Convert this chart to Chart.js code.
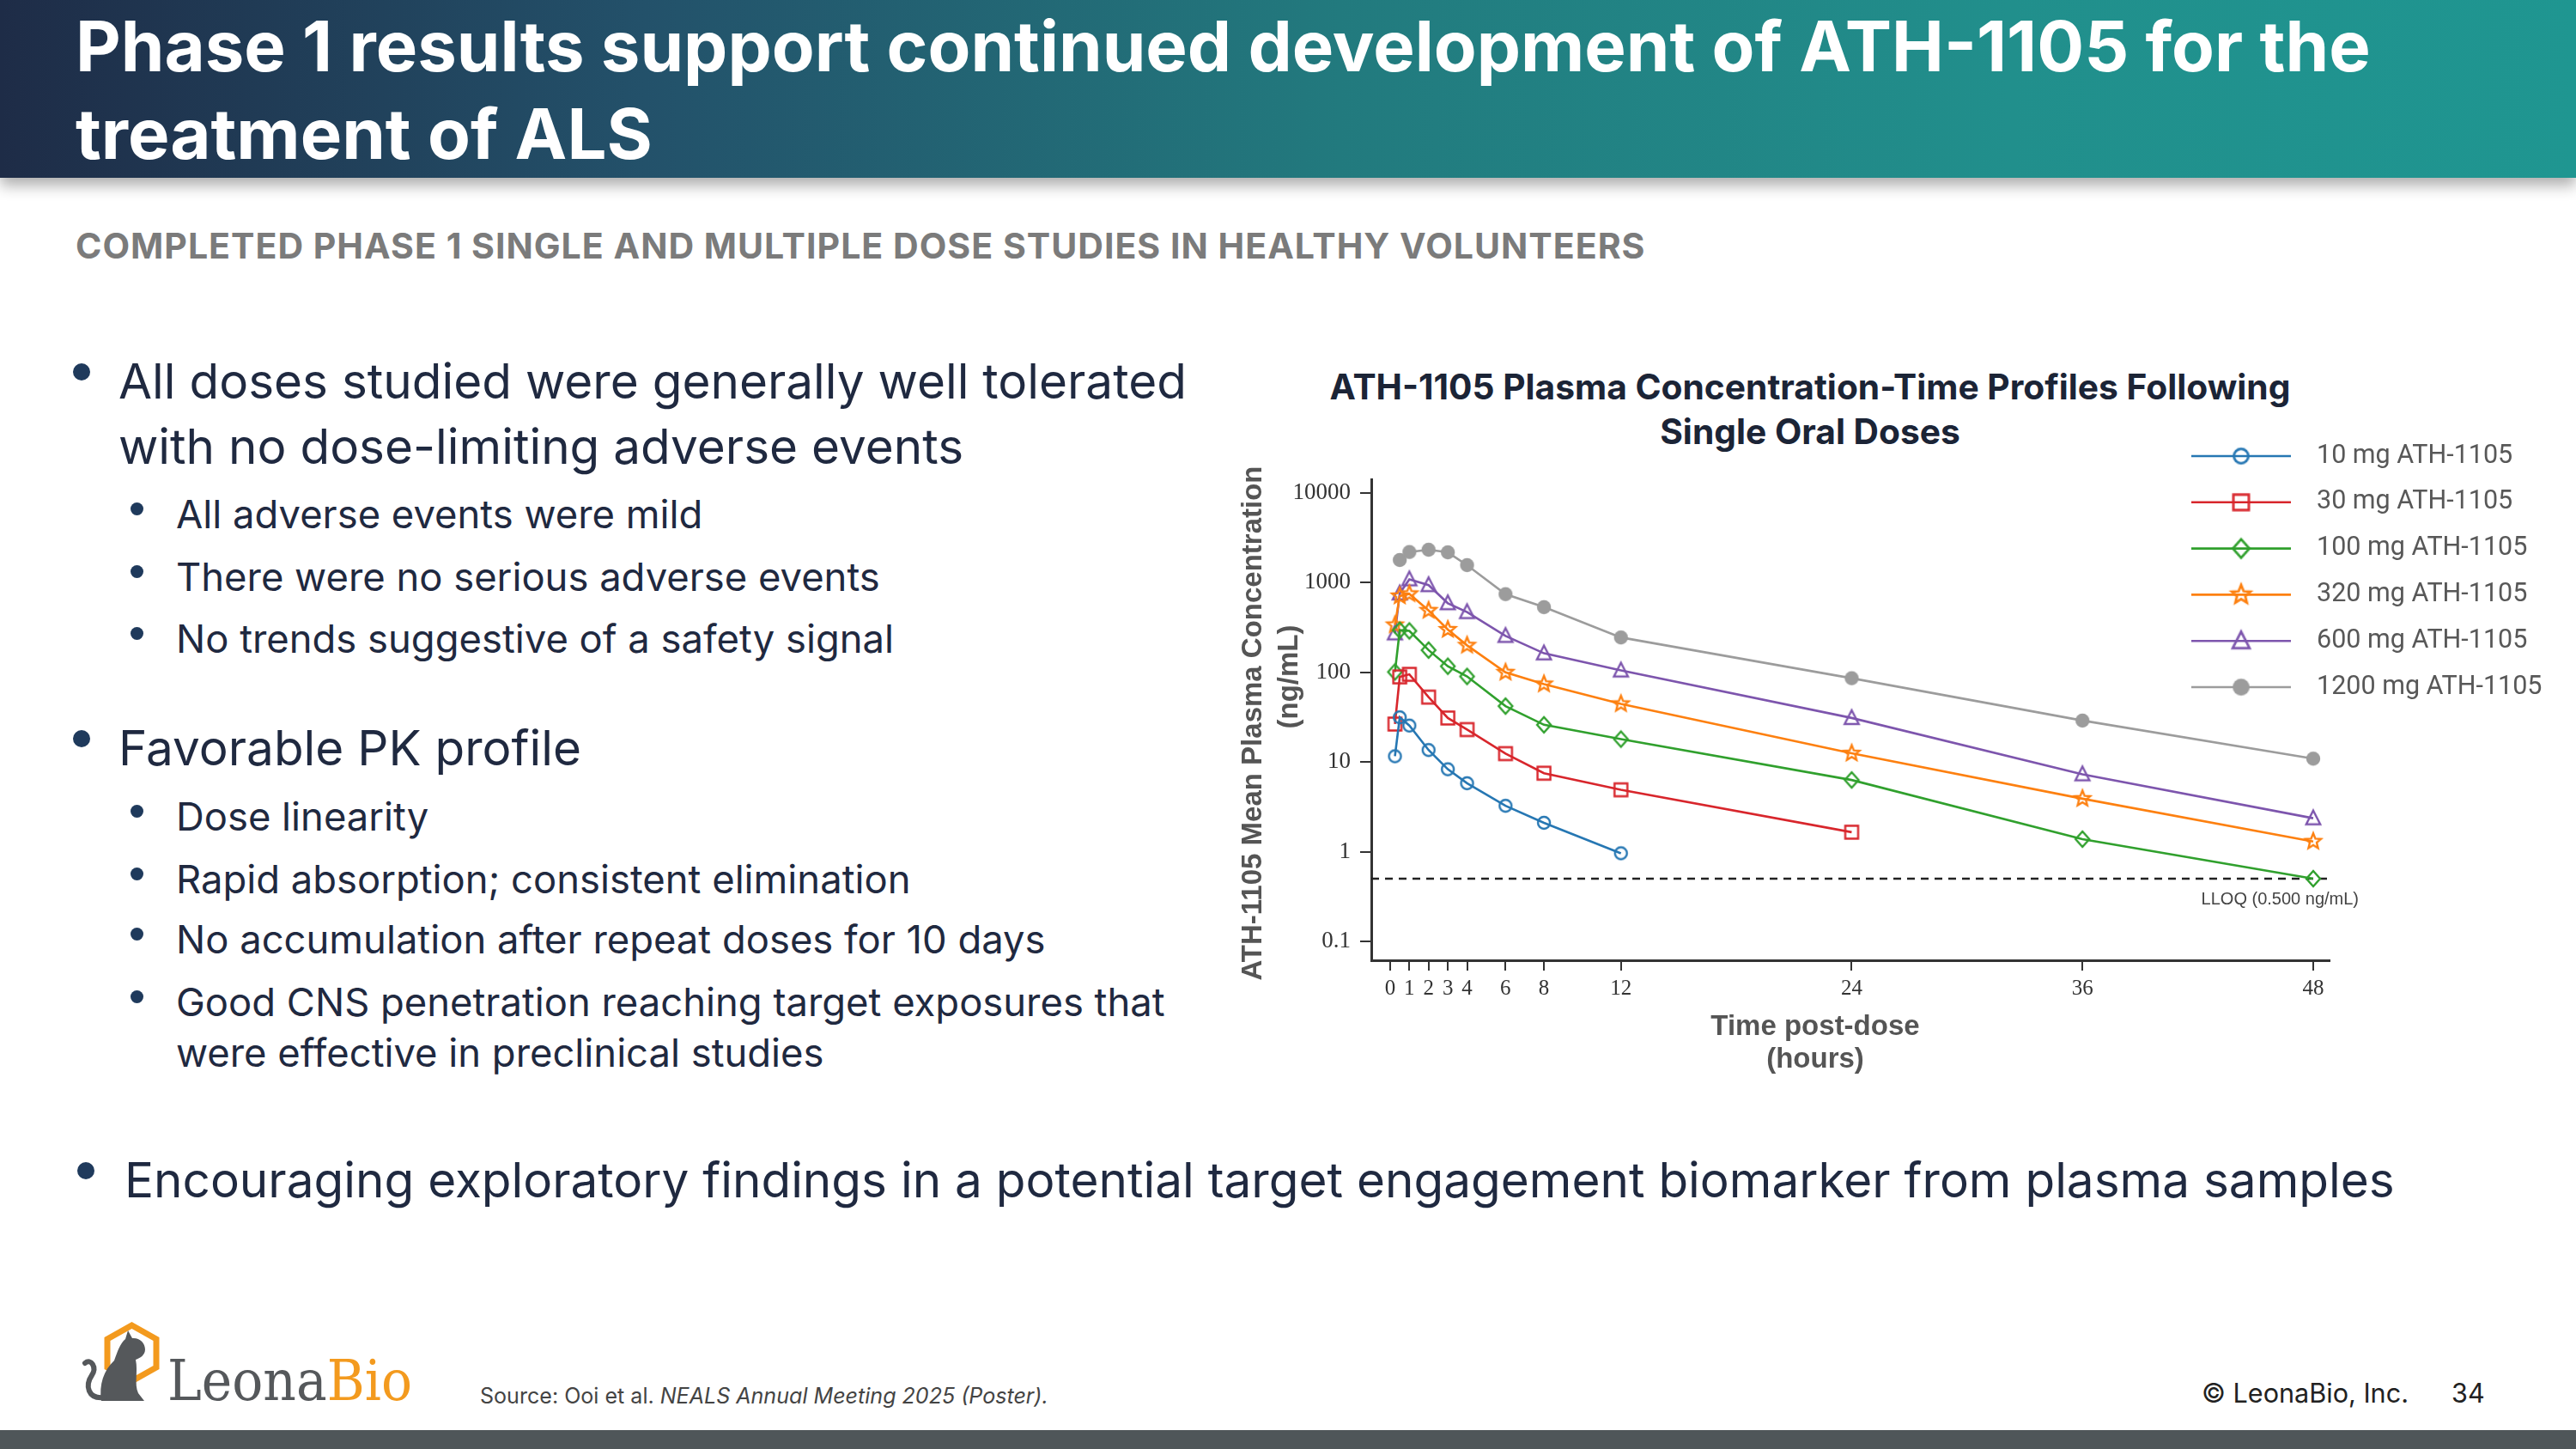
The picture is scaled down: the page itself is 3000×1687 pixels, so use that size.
<!DOCTYPE html>
<html>
<head>
<meta charset="utf-8">
<title>ATH-1105 Phase 1</title>
<script src="https://cdn.jsdelivr.net/npm/chart.js@4.4.1/dist/chart.umd.min.js"></script>
<style>
html, body { margin: 0; padding: 0; background: #fff; }
#slide { position: relative; width: 3000px; height: 1687px; overflow: hidden; background: #fff; font-family: Inter, 'Noto Sans', sans-serif; }
.header { position: absolute; left: 0; top: 0; width: 3000px; height: 207px;
  background: linear-gradient(90deg, #1e2c47 0%, #23516a 25%, #227a7e 52%, #218f8c 78%, #1f9691 100%);
  box-shadow: 0 9px 16px rgba(0,0,0,0.32); }
.t { position: absolute; white-space: nowrap; line-height: 1; font-size: 40px; }
.title { color: #fff; font-weight: 700; font-size: 78px; }
.sub { color: #7b7b7b; font-weight: 700; font-size: 38px; letter-spacing: 1px; }
.b1, .b2, .b3 { color: #1f2940; font-weight: 400; }
.ctitle { color: #1b2436; font-weight: 700; }
.foot { color: #444; }
.copy { color: #222; }
.dot { position: absolute; border-radius: 50%; background: #1f3a5c; }
.bar { position: absolute; left: 0; top: 1665px; width: 3000px; height: 22px; background: #4f5659; }
#pkChart { position: absolute; left: 1420px; top: 490px; }
</style>
</head>
<body>
<div id="slide">
  <div class="header"></div>

  <div class="t title" data-g="title" data-w="2673" data-x="88" data-cy="54">Phase 1 results support continued development of ATH-1105 for the</div>
  <div class="t title" data-g="title" data-x="88" data-cy="156">treatment of ALS</div>

  <div class="t sub" data-g="sub" data-w="1835" data-x="88" data-cy="287">COMPLETED PHASE 1 SINGLE AND MULTIPLE DOSE STUDIES IN HEALTHY VOLUNTEERS</div>

  <div class="t b1" data-g="b1" data-w="1244" data-x="138" data-cy="444" data-dot="95,433,10">All doses studied were generally well tolerated</div>
  <div class="t b1" data-g="b1" data-x="138" data-cy="520">with no dose-limiting adverse events</div>
  <div class="t b2" data-g="b2" data-x="205" data-cy="599" data-dot="159,592,7.5">All adverse events were mild</div>
  <div class="t b2" data-g="b2" data-x="205" data-cy="672" data-dot="159,665,7.5">There were no serious adverse events</div>
  <div class="t b2" data-g="b2" data-x="205" data-cy="744" data-dot="159,737,7.5">No trends suggestive of a safety signal</div>

  <div class="t b1" data-g="b1" data-x="138" data-cy="871" data-dot="95,860,10">Favorable PK profile</div>
  <div class="t b2" data-g="b2" data-x="205" data-cy="951" data-dot="159,944,7.5">Dose linearity</div>
  <div class="t b2" data-g="b2" data-x="205" data-cy="1024" data-dot="159,1017,7.5">Rapid absorption; consistent elimination</div>
  <div class="t b2" data-g="b2" data-x="205" data-cy="1094" data-dot="159,1087,7.5">No accumulation after repeat doses for 10 days</div>
  <div class="t b2" data-g="b2" data-w="1152" data-x="205" data-cy="1167" data-dot="159,1160,7.5">Good CNS penetration reaching target exposures that</div>
  <div class="t b2" data-g="b2" data-x="205" data-cy="1226">were effective in preclinical studies</div>

  <div class="t b3" data-g="b3" data-w="2644" data-x="145" data-cy="1374" data-dot="100,1363,10">Encouraging exploratory findings in a potential target engagement biomarker from plasma samples</div>

  <div class="t ctitle" data-g="ct" data-w="1119" data-cx="2108" data-cy="451">ATH-1105 Plasma Concentration-Time Profiles Following</div>
  <div class="t ctitle" data-g="ct" data-cx="2108" data-cy="503">Single Oral Doses</div>

  <canvas id="pkChart" width="1570" height="780"></canvas>

  <svg style="position:absolute;left:0;top:1500px" width="520" height="160" viewBox="0 0 520 160">
    <polygon points="153.5,43 182,59 182,92 153.5,108 125,92 125,59" fill="none" stroke="#f39a1e" stroke-width="7"/>
    <path d="M118 131 C115 112 121 95 133 84 C137 73 140 64 146 59 L149 49 L154 58 C162 57 169 63 169 71 C169 78 163 81 158 83 C161 97 156 111 161 122 L168 131 Z" fill="#55585b"/>
    <path d="M121 127 C102 129 99 113 107 101 C113 92 106 81 99 87" fill="none" stroke="#55585b" stroke-width="6" stroke-linecap="round"/>
    <text x="195" y="130" font-family="'DejaVu Serif', serif" font-size="66" textLength="285" lengthAdjust="spacingAndGlyphs"><tspan fill="#55585b">Leona</tspan><tspan fill="#f39a1e">Bio</tspan></text>
  </svg>

  <div class="t foot" data-g="foot" data-w="662" data-x="559" data-cy="1626">Source: Ooi et al. <i>NEALS Annual Meeting 2025 (Poster).</i></div>
  <div class="t copy" data-g="copy" data-w="241" data-x="2564" data-cy="1622">© LeonaBio, Inc.</div>
  <div class="t copy" data-g="copy" data-x="2855" data-cy="1622">34</div>

  <div class="bar"></div>
</div>

<script>
// sampling times (hours) and mean plasma concentrations (ng/mL)
const hours = [0.25, 0.5, 1, 2, 3, 4, 6, 8, 12, 24, 36, 48];
const conc10mg   = [11.6, 31.5, 25.5, 13.6, 8.3, 5.8, 3.25, 2.1, 0.96, null, null, null];
const conc30mg   = [26.5, 89, 95, 53, 31, 23, 12.4, 7.5, 4.9, 1.65, null, null];
const conc100mg  = [101, 295, 290, 177, 117, 90, 42, 26, 18, 6.3, 1.38, 0.5];
const conc320mg  = [338, 710, 750, 490, 300, 200, 100, 74, 44.5, 12.5, 3.9, 1.3];
const conc600mg  = [272, 760, 1090, 940, 590, 470, 255, 163, 105, 31, 7.3, 2.36];
const conc1200mg = [null, 1790, 2200, 2330, 2180, 1570, 745, 534, 245, 86, 29, 10.9];
const doseLabels = ['10 mg ATH-1105', '30 mg ATH-1105', '100 mg ATH-1105', '320 mg ATH-1105', '600 mg ATH-1105', '1200 mg ATH-1105'];

const xTickValues = [0, 1, 2, 3, 4, 6, 8, 12, 24, 36, 48];
const yTickValues = [0.1, 1, 10, 100, 1000, 10000];
const xTitle = ['Time post-dose', '(hours)'];
const yTitle = ['ATH-1105 Mean Plasma Concentration', '(ng/mL)'];
const lloqValue = 0.5;
const lloqLabel = 'LLOQ (0.500 ng/mL)';
const xMin = -0.98, xMax = 48.85;
const yMin = 0.0615, yMax = 14230;

const seriesStyle = [
    { color: '#2677b3', shape: 'circle', filled: false },
    { color: '#d8262c', shape: 'square', filled: false },
    { color: '#30a02d', shape: 'diamond', filled: false },
    { color: '#fd8010', shape: 'star', filled: false },
    { color: '#7d55ad', shape: 'triangle', filled: false },
    { color: '#9c9c9c', shape: 'circle', filled: true }
];

// ---- slide text layout ----
var groupSize = {};
var texts = document.querySelectorAll('.t');
texts.forEach(function (el) {
    if (el.dataset.w) {
        var fs = parseFloat(getComputedStyle(el).fontSize);
        var w = el.getBoundingClientRect().width;
        groupSize[el.dataset.g] = fs * (+el.dataset.w) / w;
    }
});
texts.forEach(function (el) {
    if (groupSize[el.dataset.g]) el.style.fontSize = groupSize[el.dataset.g] + 'px';
});
texts.forEach(function (el) {
    var r = el.getBoundingClientRect();
    if (el.dataset.cx) el.style.left = (+el.dataset.cx - r.width / 2) + 'px';
    else el.style.left = el.dataset.x + 'px';
    el.style.top = (+el.dataset.cy - r.height / 2) + 'px';
    if (el.dataset.dot) {
        var d = el.dataset.dot.split(',').map(Number);
        var dot = document.createElement('div');
        dot.className = 'dot';
        dot.style.left = (d[0] - d[2]) + 'px';
        dot.style.top = (d[1] - d[2]) + 'px';
        dot.style.width = dot.style.height = (2 * d[2]) + 'px';
        document.getElementById('slide').appendChild(dot);
    }
});

// ---- markers ----
function makeMarker(shape, color, filled) {
    var c = document.createElement('canvas');
    c.width = c.height = 28;
    var g = c.getContext('2d');
    g.translate(14, 14);
    g.strokeStyle = color;
    g.fillStyle = color;
    g.lineWidth = 2.4;
    g.beginPath();
    if (shape == 'circle') {
        g.arc(0, 0, filled ? 8.2 : 7, 0, 2 * Math.PI);
    } else if (shape == 'square') {
        g.rect(-7.5, -7.5, 15, 15);
    } else if (shape == 'diamond') {
        g.moveTo(0, -9); g.lineTo(8, 0); g.lineTo(0, 9); g.lineTo(-8, 0); g.closePath();
    } else if (shape == 'triangle') {
        g.moveTo(0, -9); g.lineTo(8.2, 7); g.lineTo(-8.2, 7); g.closePath();
    } else if (shape == 'star') {
        for (var k = 0; k < 10; k++) {
            var rad = k % 2 == 0 ? 9.5 : 4.2;
            var a = -Math.PI / 2 + k * Math.PI / 5;
            if (k == 0) g.moveTo(rad * Math.cos(a), rad * Math.sin(a));
            else g.lineTo(rad * Math.cos(a), rad * Math.sin(a));
        }
        g.closePath();
    }
    if (filled) g.fill(); else g.stroke();
    return c;
}
var markers = seriesStyle.map(function (s) { return makeMarker(s.shape, s.color, s.filled); });

var series = [conc10mg, conc30mg, conc100mg, conc320mg, conc600mg, conc1200mg];
var datasets = series.map(function (vals, i) {
    return {
        label: doseLabels[i],
        data: hours.map(function (h, j) { return { x: h, y: vals[j] }; }),
        borderColor: seriesStyle[i].color,
        backgroundColor: seriesStyle[i].color,
        borderWidth: 2.6,
        pointStyle: markers[i],
        pointRadius: 7,
        pointHoverRadius: 7,
        tension: 0,
        fill: false
    };
});
datasets.push({
    label: 'LLOQ',
    data: [{ x: xMin, y: lloqValue }, { x: xMax, y: lloqValue }],
    borderColor: '#222',
    borderWidth: 2.6,
    borderDash: [9, 7],
    pointRadius: 0,
    fill: false
});

// legend (line + marker + label), axis titles and the LLOQ note
const chartText = {
    id: 'chartText',
    afterDraw: function (chart) {
        var ctx = chart.ctx;
        var area = chart.chartArea;
        ctx.save();
        ctx.font = '30.5px Roboto';
        ctx.textBaseline = 'middle';
        ctx.textAlign = 'left';
        for (var i = 0; i < doseLabels.length; i++) {
            var y = area.top - 27 + i * 53.8;
            ctx.strokeStyle = seriesStyle[i].color;
            ctx.lineWidth = 2.6;
            ctx.beginPath();
            ctx.moveTo(area.right - 161, y);
            ctx.lineTo(area.right - 45, y);
            ctx.stroke();
            var m = markers[i];
            ctx.drawImage(m, area.right - 103 - m.width * 0.6, y - m.height * 0.6, m.width * 1.2, m.height * 1.2);
            ctx.fillStyle = '#585858';
            ctx.fillText(doseLabels[i], area.right - 15, y);
        }

        var xs = chart.scales.x, ys = chart.scales.y;
        ctx.font = '20px "Liberation Sans"';
        ctx.fillStyle = '#444';
        ctx.textAlign = 'right';
        ctx.fillText(lloqLabel, xs.getPixelForValue(xMax) + 34, ys.getPixelForValue(lloqValue) + 24);

        ctx.font = 'bold 33px "Liberation Sans"';
        ctx.fillStyle = '#555';
        ctx.textAlign = 'center';
        ctx.fillText(xTitle[0], area.left + 517, area.bottom + 78);
        ctx.fillText(xTitle[1], area.left + 517, area.bottom + 116);

        ctx.translate(area.left - 137, area.top + 284);
        ctx.rotate(-Math.PI / 2);
        ctx.fillText(yTitle[0], 0, 0);
        ctx.fillText(yTitle[1], 54, 42);
        ctx.restore();
    }
};

new Chart(document.getElementById('pkChart'), {
    type: 'line',
    data: { datasets: datasets },
    plugins: [chartText],
    options: {
        responsive: false,
        animation: false,
        devicePixelRatio: 1,
        layout: { padding: { left: 0, top: 68, right: 277, bottom: 0 } },
        plugins: {
            legend: { display: false },
            title: { display: false },
            tooltip: { enabled: false }
        },
        scales: {
            x: {
                type: 'linear',
                min: xMin,
                max: xMax,
                afterBuildTicks: function (s) { s.ticks = xTickValues.map(function (v) { return { value: v }; }); },
                afterFit: function (s) { s.height = 152; },
                ticks: {
                    autoSkip: false, maxRotation: 0, padding: 6,
                    color: '#333', font: { family: '"Liberation Serif"', size: 25 },
                    callback: function (v) { return String(v); }
                },
                grid: { drawOnChartArea: false, drawTicks: true, tickLength: 12, color: '#333', lineWidth: 2 },
                border: { display: true, color: '#333', width: 3 }
            },
            y: {
                type: 'logarithmic',
                min: yMin,
                max: yMax,
                afterBuildTicks: function (s) { s.ticks = yTickValues.map(function (v) { return { value: v }; }); },
                afterFit: function (s) { s.width = 177; },
                ticks: {
                    autoSkip: false, padding: 11,
                    color: '#333', font: { family: '"Liberation Serif"', size: 27 },
                    callback: function (v) { return String(v); }
                },
                grid: { drawOnChartArea: false, drawTicks: true, tickLength: 13, color: '#333', lineWidth: 2 },
                border: { display: true, color: '#333', width: 3 }
            }
        }
    }
});
</script>
</body>
</html>
